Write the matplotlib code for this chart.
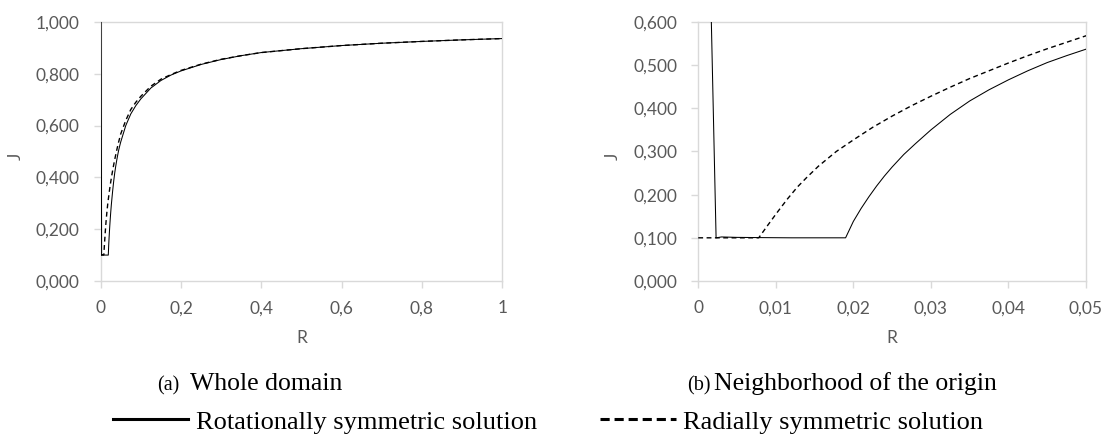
import matplotlib
matplotlib.use("Agg")
import matplotlib.pyplot as plt
from matplotlib.lines import Line2D

# rotationally symmetric solution (solid)
r_rot = [0.0, 0.0012, 0.0023, 0.003, 0.005, 0.008, 0.012, 0.019, 0.020, 0.021,
         0.022, 0.023, 0.024, 0.025, 0.0265, 0.028, 0.03, 0.0325, 0.035, 0.0375,
         0.04, 0.0425, 0.045, 0.0475, 0.05, 0.0625, 0.075, 0.0875, 0.1, 0.125,
         0.15, 0.175, 0.2, 0.25, 0.3, 0.35, 0.4, 0.5, 0.6, 0.7, 0.8, 0.9, 1.0]
j_rot = [1.0, 1.0, 0.1, 0.102, 0.101, 0.1005, 0.1, 0.1, 0.138, 0.168,
         0.195, 0.22, 0.243, 0.264, 0.293, 0.318, 0.35, 0.386, 0.417, 0.443,
         0.466, 0.487, 0.506, 0.522, 0.537, 0.60, 0.645, 0.677, 0.703, 0.745,
         0.774, 0.795, 0.811, 0.836, 0.855, 0.87, 0.882, 0.897, 0.909, 0.918, 0.925, 0.931, 0.936]

# radially symmetric solution (dashed)
r_rad = [0.0, 0.0078, 0.009, 0.0101, 0.0115, 0.0128, 0.014, 0.0155, 0.0178, 0.0201,
         0.0225, 0.025, 0.0275, 0.03, 0.0325, 0.035, 0.0375, 0.04, 0.0425, 0.045,
         0.0475, 0.05, 0.0625, 0.075, 0.0875, 0.1, 0.125, 0.15, 0.175, 0.2,
         0.25, 0.3, 0.35, 0.4, 0.5, 0.6, 0.7, 0.8, 0.9, 1.0]
j_rad = [0.1, 0.1, 0.13, 0.157, 0.19, 0.218, 0.24, 0.266, 0.3, 0.328,
         0.356, 0.382, 0.406, 0.428, 0.449, 0.469, 0.487, 0.505, 0.522, 0.538,
         0.553, 0.568, 0.62, 0.662, 0.69, 0.713, 0.752, 0.779, 0.797, 0.813,
         0.837, 0.856, 0.87, 0.882, 0.897, 0.909, 0.918, 0.925, 0.931, 0.936]

left_xticks = [0, 0.2, 0.4, 0.6, 0.8, 1.0]
left_xlabels = ["0", "0,2", "0,4", "0,6", "0,8", "1"]
left_yticks = [0, 0.2, 0.4, 0.6, 0.8, 1.0]
left_ylabels = ["0,000", "0,200", "0,400", "0,600", "0,800", "1,000"]

right_xticks = [0, 0.01, 0.02, 0.03, 0.04, 0.05]
right_xlabels = ["0", "0,01", "0,02", "0,03", "0,04", "0,05"]
right_yticks = [0, 0.1, 0.2, 0.3, 0.4, 0.5, 0.6]
right_ylabels = ["0,000", "0,100", "0,200", "0,300", "0,400", "0,500", "0,600"]

gray = "#595959"
light = "#d9d9d9"

fig = plt.figure(figsize=(11.05, 4.46), dpi=100)
ax1 = fig.add_axes([0.0911, 0.370, 0.3634, 0.5807])
ax2 = fig.add_axes([0.6319, 0.370, 0.3509, 0.5807])


def style(ax, xt, xl, yt, yl, ylabel_x):
    ax.set_xlim(xt[0], xt[-1])
    ax.set_ylim(yt[0], yt[-1])
    ax.set_xticks(xt)
    ax.set_xticklabels(xl)
    ax.set_yticks(yt)
    ax.set_yticklabels(yl)
    for s in ax.spines.values():
        s.set_color(light)
        s.set_linewidth(1)
    ax.tick_params(axis="both", colors=light, length=5, width=1,
                   labelcolor=gray, labelsize=12.5)
    ax.tick_params(axis="x", pad=9)
    ax.tick_params(axis="y", pad=10)
    for lab in ax.get_xticklabels() + ax.get_yticklabels():
        lab.set_fontfamily("Lato")
    ax.set_xlabel("R", fontsize=12.5, color=gray, family="Lato")
    ax.set_ylabel("J", fontsize=12.5, color=gray, family="Lato")
    ax.xaxis.set_label_coords(0.5, -0.19)
    ax.yaxis.set_label_coords(ylabel_x, 0.48)


for ax in (ax1, ax2):
    ax.plot(r_rot, j_rot, color="black", lw=0.75, zorder=3)
    ax.plot(r_rad, j_rad, color="black", lw=1.0, dashes=(3.5, 2.5), zorder=3)

style(ax1, left_xticks, left_xlabels, left_yticks, left_ylabels, -0.191)
style(ax2, right_xticks, right_xlabels, right_yticks, right_ylabels, -0.199)

# captions
cap_y = (446 - 390) / 446
fig.text(157 / 1105, cap_y, "(a)", family="Liberation Serif", fontsize=14.5, va="baseline")
fig.text(190 / 1105, cap_y, "Whole domain", family="Liberation Serif", fontsize=18.5, va="baseline")
fig.text(687 / 1105, cap_y, "(b)", family="Liberation Serif", fontsize=14.5, va="baseline")
fig.text(714 / 1105, cap_y, "Neighborhood of the origin", family="Liberation Serif",
         fontsize=18.5, va="baseline")

handles = [Line2D([], [], color="black", lw=2.2),
           Line2D([], [], color="black", lw=2.2, dashes=(3, 1.6))]
labels = ["Rotationally symmetric solution", "Radially symmetric solution"]
fig.legend(handles, labels, loc="center left", bbox_to_anchor=(113 / 1105, 0.054),
           ncol=2, frameon=False, borderpad=0, borderaxespad=0,
           handlelength=2.86, handletextpad=0.3, columnspacing=2.37,
           prop={"family": "Liberation Serif", "size": 19})

fig.savefig("out.png", dpi=100)
